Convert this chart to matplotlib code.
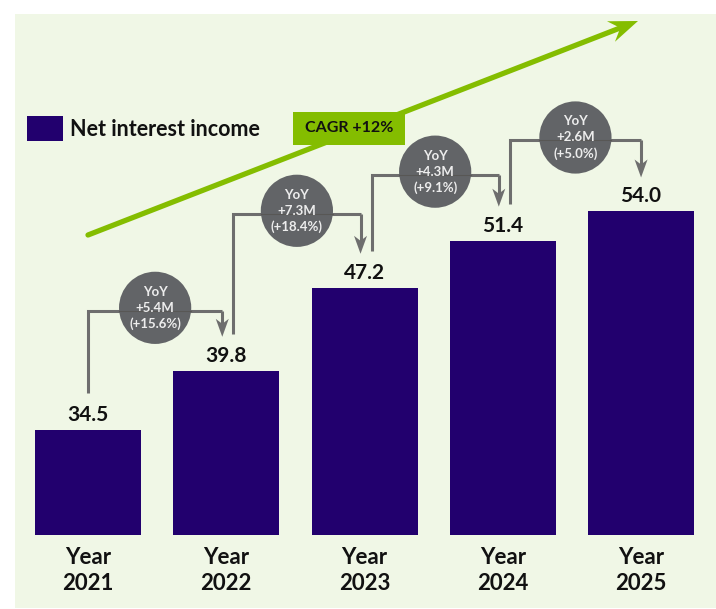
import numpy as np
import matplotlib
matplotlib.use("Agg")
import matplotlib.pyplot as plt
from matplotlib.patches import Rectangle, Polygon

# ---- data ----
years = ["2021", "2022", "2023", "2024", "2025"]
income = [34.5, 39.8, 47.2, 51.4, 54.0]
yoy_change = ["+5.4M", "+7.3M", "+4.3M", "+2.6M"]
yoy_pct = ["+15.6%", "+18.4%", "+9.1%", "+5.0%"]
series_name = "Net interest income"
cagr_label = "CAGR +12%"

# ---- style ----
BAR = "#22006E"
PANEL = "#F0F7E6"
GREEN = "#84BD00"
BUBBLE = "#626467"
LINK = "#6E6E6E"
INK = "#111111"
FONT = "Lato"

W, H, DPI = 716, 609, 100
fig = plt.figure(figsize=(W / DPI, H / DPI), dpi=DPI, facecolor="white")

# light panel behind everything
fig.patches.append(Rectangle((15 / W, 1 / H), 701 / W, 594 / H,
                             transform=fig.transFigure, facecolor=PANEL,
                             edgecolor="none", zorder=-5))

# plotting area (pixels from top-left): x 15..716, y 14..535
ax = fig.add_axes([15 / W, (H - 535) / H, 701 / W, (535 - 14) / H])
ax.set_facecolor("none")
ax.set_xlim(-0.528, 4.542)
ax.set_ylim(25.17, 71.6)
for s in ax.spines.values():
    s.set_visible(False)
ax.set_xticks([])
ax.set_yticks([])

x = list(range(len(years)))
ax.bar(x, income, width=0.767, color=BAR, zorder=2)

to_disp = ax.transData.transform
to_data = ax.transData.inverted().transform


def shift(px_x, v, dx=0.0, dy=0.0):
    """Data point moved by (dx, dy) screen pixels (dy positive = up)."""
    d = to_disp((px_x, v))
    return to_data((d[0] + dx, d[1] + dy))


def barbed_arrow(start, end, color, lw, head_len, head_half, notch, z, cap="butt"):
    """Straight shaft ending in a swept-back (notched) head; sizes in pixels."""
    s = to_disp(start)
    e = to_disp(end)
    u = (e - s) / np.hypot(*(e - s))
    p = np.array([-u[1], u[0]])
    back = e - head_len * u
    notch_pt = e - notch * u
    head = [e, back + head_half * p, notch_pt, back - head_half * p]
    shaft_end = to_data(notch_pt + 1.0 * u)
    ax.plot([start[0], shaft_end[0]], [start[1], shaft_end[1]], color=color,
            lw=lw, solid_capstyle=cap, zorder=z, clip_on=False)
    ax.add_patch(Polygon([to_data(q) for q in head], closed=True, facecolor=color,
                         edgecolor="none", zorder=z, clip_on=False))


# value labels above bars
for xi, v in zip(x, income):
    ax.annotate(f"{v:.1f}", xy=(xi, v), xytext=(0, 9), textcoords="offset pixels",
                ha="center", va="baseline", fontsize=15, fontweight="bold",
                family=FONT, color=INK, zorder=5)

# category labels below bars
for xi, yr in zip(x, years):
    for text, off in (("Year", -23), (yr, -49)):
        ax.annotate(text, xy=(xi, 0), xycoords=("data", "axes fraction"),
                    xytext=(0, off), textcoords="offset pixels", ha="center",
                    va="center", fontsize=16, fontweight="bold", family=FONT,
                    color=INK, annotation_clip=False)

# year-over-year bridges between neighbouring bars
rise_px = [60, 74, 66, 71]
n = len(income)
for i in range(n - 1):
    out_dx = 0 if i == 0 else 7
    in_dx = 0 if i + 1 == n - 1 else -4
    x0 = shift(x[i], income[i], dx=out_dx)[0]
    y0 = shift(x[i], income[i], dy=37)[1]
    x1 = shift(x[i + 1], income[i + 1], dx=in_dx)[0]
    yh = shift(x[i + 1], income[i + 1], dy=rise_px[i])[1]
    ytip = shift(x[i + 1], income[i + 1], dy=34)[1]
    ax.plot([x0, x0, x1], [y0, yh, yh], color=LINK, lw=2.2,
            solid_joinstyle="miter", solid_capstyle="butt", zorder=3)
    barbed_arrow((x1, yh), (x1, ytip), LINK, 2.2, head_len=18, head_half=6.5,
                 notch=13, z=3)
    cx = (x0 + x1) / 2
    cy = shift(cx, yh, dy=3)[1]
    ax.scatter([cx], [cy], s=52 ** 2, color=BUBBLE, edgecolors="none", zorder=4)
    # faint trace of the connector running through the bubble
    xl = shift(cx, yh, dx=-36)[0]
    xr = shift(cx, yh, dx=36)[0]
    ax.plot([xl, xr], [yh, yh], color="#55524E", lw=0.8, alpha=0.7, zorder=4.5)
    for k, line in enumerate(["YoY", yoy_change[i], f"({yoy_pct[i]})"]):
        ax.annotate(line, xy=(cx, cy), xytext=(0, 16 - 16 * k),
                    textcoords="offset pixels", ha="center", va="center",
                    fontsize=9.5, fontweight="bold", family=FONT,
                    color="#EDEDED", zorder=5)

# growth arrow across the chart
a_start = to_data(fig.transFigure.transform((88 / W, (H - 235) / H)))
a_end = to_data(fig.transFigure.transform((638 / W, (H - 21) / H)))
barbed_arrow(a_start, a_end, GREEN, 3.8, head_len=29, head_half=11, notch=19,
             z=1, cap="round")

# CAGR tag
fig.patches.append(Rectangle((293 / W, (H - 145) / H), 112 / W, 33 / H,
                             transform=fig.transFigure, facecolor=GREEN,
                             edgecolor="none", zorder=3))
fig.text(349 / W, (H - 128.5) / H, cagr_label, ha="center", va="center",
         fontsize=11.5, fontweight="bold", family=FONT, color=INK, zorder=4)

# legend
fig.patches.append(Rectangle((27 / W, (H - 141) / H), 36 / W, 25 / H,
                             transform=fig.transFigure, facecolor=BAR,
                             edgecolor="none", zorder=3))
fig.text(70 / W, (H - 129) / H, series_name, ha="left", va="center",
         fontsize=15.5, fontweight="bold", family=FONT, color=INK, zorder=4)

fig.savefig("out.png", dpi=DPI, facecolor="white")
